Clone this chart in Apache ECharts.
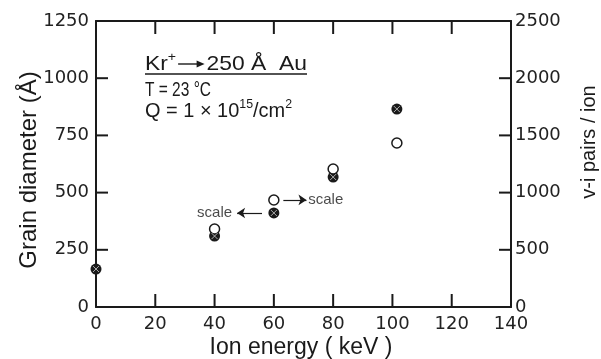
<!DOCTYPE html>
<html><head><meta charset="utf-8">
<script src="https://cdn.jsdelivr.net/npm/echarts@6/dist/echarts.min.js"></script>
<style>html,body{margin:0;padding:0;background:#fff}#c{width:601px;height:359px}</style>
</head><body><div id="c"></div>
<script>
// ---- data ----
const xTicks = [0, 20, 40, 60, 80, 100, 120, 140];
const leftTicks = [0, 250, 500, 750, 1000, 1250];
const rightTicks = [0, 500, 1000, 1500, 2000, 2500];
const grainEnergy = [0, 40, 60, 80, 101.5];
const grainDiameter = [166, 310, 411, 568, 865];
const pairsEnergy = [40, 60, 80, 101.5];
const pairsPerIon = [682, 935, 1206, 1434];
// "scale" notes (left-axis units) and their arrows
const noteLeft = [45.9, 411];
const noteRight = [71.6, 468];
const arrowLeft = [[56.0, 411], [47.6, 411]];
const arrowRight = [[63.2, 468], [71.0, 468]];

const ink = '#1a1a1a';
const chart = echarts.init(document.getElementById('c'));

const ctx = document.createElement('canvas').getContext('2d');
function measure(t, size) { ctx.font = size + 'px "Liberation Sans"'; return ctx.measureText(t).width; }
const graphics = [];
function layoutLine(x0, yMid, target, pieces) {
  const big = 21, small = 13;
  const w = pieces.map(p => p.gap != null ? p.gap : measure(p.t, p.sup ? small : big));
  const total = w.reduce((a, b) => a + b, 0);
  const s = target / total;
  let cx = x0; const gaps = [];
  pieces.forEach((p, i) => {
    if (p.gap != null) gaps.push([cx, cx + w[i] * s]);
    else graphics.push({type: 'text', x: cx, y: p.sup ? yMid - 7 : yMid, scaleX: s, silent: true,
      style: {text: p.t, font: (p.sup ? small : big) + 'px "Liberation Sans"', fill: ink, align: 'left', verticalAlign: 'middle'}});
    cx += w[i] * s;
  });
  return gaps;
}
const g1 = layoutLine(145, 64, 162, [{t: 'Kr'}, {t: '+', sup: true}, {gap: 28}, {t: '250 Å  Au'}]);
const ag = g1[0];
graphics.push({type: 'line', silent: true, shape: {x1: ag[0] + 2, y1: 64, x2: ag[1] - 8, y2: 64}, style: {stroke: ink, lineWidth: 1.4}});
graphics.push({type: 'polygon', silent: true, shape: {points: [[ag[1] - 10, 60.5], [ag[1] - 2, 64], [ag[1] - 10, 67.5]]}, style: {fill: ink}});
graphics.push({type: 'line', silent: true, shape: {x1: 145, y1: 74, x2: 307, y2: 74}, style: {stroke: ink, lineWidth: 1.3}});
layoutLine(145, 90, 66, [{t: 'T = 23 °C'}]);
layoutLine(145, 111, 147, [{t: 'Q = 1 × 10'}, {t: '15', sup: true}, {t: '/cm'}, {t: '2', sup: true}]);

// axis titles
graphics.push({type: 'text', x: 29, y: 170, rotation: Math.PI / 2, silent: true,
  style: {text: 'Grain diameter (Å)', font: '24px "Liberation Sans"', fill: ink, align: 'center', verticalAlign: 'middle'}});
graphics.push({type: 'text', x: 589, y: 142, rotation: Math.PI / 2, silent: true,
  style: {text: 'v-i pairs / ion', font: '20px "Liberation Sans"', fill: ink, align: 'center', verticalAlign: 'middle'}});
graphics.push({type: 'text', x: 301, y: 348, silent: true,
  style: {text: 'Ion energy ( keV )', font: '23px "Liberation Sans"', fill: ink, align: 'center', verticalAlign: 'middle'}});

function valueAxis(ticks, position, labelMargin) {
  return {type: 'value', position: position, min: ticks[0], max: ticks[ticks.length - 1], interval: ticks[1] - ticks[0],
    axisLine: {show: true, onZero: false, lineStyle: {color: ink, width: 2}},
    axisTick: {show: false},
    splitLine: {show: false},
    axisLabel: {show: labelMargin != null, margin: labelMargin || 8, fontFamily: 'DejaVu Sans', fontSize: 18, color: '#222',
      formatter: v => String(v)}};
}

const option = {
  animation: false,
  grid: {left: 96, top: 21, right: 90, bottom: 52},
  xAxis: [valueAxis(xTicks, 'bottom', 8), valueAxis(xTicks, 'top', null)],
  yAxis: [valueAxis(leftTicks, 'left', 7), valueAxis(rightTicks, 'right', 4)],
  graphic: graphics,
  series: [
    {type: 'scatter', name: 'Grain diameter', xAxisIndex: 0, yAxisIndex: 0, symbol: 'circle', symbolSize: 11,
      itemStyle: {color: ink, opacity: 1}, data: grainEnergy.map((e, i) => [e, grainDiameter[i]]), z: 3},
    {type: 'scatter', name: 'Grain diameter cross', xAxisIndex: 0, yAxisIndex: 0, symbol: 'path://M0,0L10,10M10,0L0,10', symbolSize: 6,
      itemStyle: {color: 'none', borderColor: '#cfcfcf', borderWidth: 1}, data: grainEnergy.map((e, i) => [e, grainDiameter[i]]), z: 4, silent: true},
    {type: 'scatter', name: 'v-i pairs/ion', xAxisIndex: 0, yAxisIndex: 1, symbol: 'circle', symbolSize: 10,
      itemStyle: {color: '#fff', borderColor: ink, borderWidth: 1.5, opacity: 1}, data: pairsEnergy.map((e, i) => [e, pairsPerIon[i]]), z: 3},
    {type: 'scatter', name: 'notes', xAxisIndex: 0, yAxisIndex: 0, symbolSize: 0, silent: true,
      data: [
        {value: noteLeft, label: {show: true, position: 'left', distance: 0, formatter: 'scale'}},
        {value: noteRight, label: {show: true, position: 'right', distance: 0, formatter: 'scale'}}
      ],
      label: {fontFamily: 'Liberation Sans', fontSize: 15, color: ink},
      markLine: {silent: true, symbol: ['none', 'arrow'], symbolSize: 8, label: {show: false},
        lineStyle: {color: ink, width: 1.2, type: 'solid'}, emphasis: {disabled: true},
        data: [
          [{coord: arrowLeft[0]}, {coord: arrowLeft[1]}],
          [{coord: arrowRight[0]}, {coord: arrowRight[1]}]
        ]}
    }
  ]
};
chart.setOption(option);

// inward tick marks, positioned through the axes' own scales
const TL = 13;
const tickStyle = {stroke: ink, lineWidth: 2};
const ticks = [];
const yTop = leftTicks[leftTicks.length - 1], yBot = leftTicks[0];
const xL = xTicks[0], xR = xTicks[xTicks.length - 1];
xTicks.slice(1, -1).forEach(v => {
  const b = chart.convertToPixel({xAxisIndex: 0, yAxisIndex: 0}, [v, yBot]);
  const t = chart.convertToPixel({xAxisIndex: 0, yAxisIndex: 0}, [v, yTop]);
  ticks.push({type: 'line', silent: true, z: 10, shape: {x1: b[0], y1: b[1], x2: b[0], y2: b[1] - TL}, style: tickStyle});
  ticks.push({type: 'line', silent: true, z: 10, shape: {x1: t[0], y1: t[1], x2: t[0], y2: t[1] + TL}, style: tickStyle});
});
leftTicks.slice(1, -1).forEach(v => {
  const p = chart.convertToPixel({xAxisIndex: 0, yAxisIndex: 0}, [xL, v]);
  ticks.push({type: 'line', silent: true, z: 10, shape: {x1: p[0], y1: p[1], x2: p[0] + 12, y2: p[1]}, style: tickStyle});
});
rightTicks.slice(1, -1).forEach(v => {
  const p = chart.convertToPixel({xAxisIndex: 0, yAxisIndex: 1}, [xR, v]);
  ticks.push({type: 'line', silent: true, z: 10, shape: {x1: p[0], y1: p[1], x2: p[0] - 12, y2: p[1]}, style: tickStyle});
});
chart.setOption({graphic: graphics.concat(ticks)});
</script></body></html>
